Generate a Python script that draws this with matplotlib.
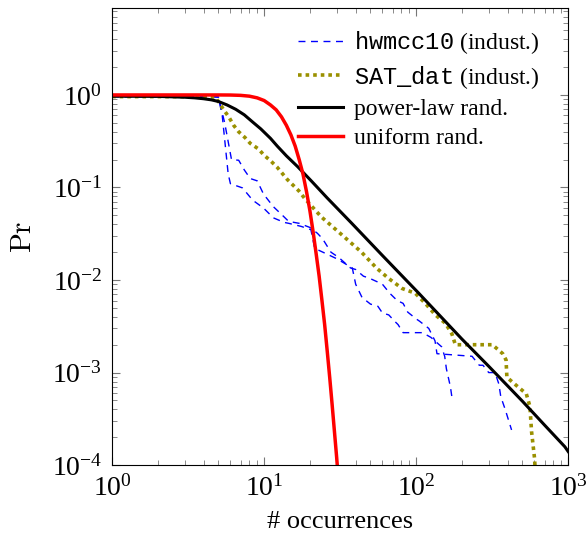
import matplotlib
matplotlib.use('Agg')
import matplotlib.pyplot as plt
from matplotlib.ticker import LogLocator, NullFormatter

plt.rcParams['mathtext.fontset'] = 'cm'
plt.rcParams['mathtext.tt'] = 'Liberation Mono'
plt.rcParams['font.family'] = ['Liberation Serif', 'DejaVu Serif']

# hwmcc10 (industrial), two instances drawn with the same style
hw1_x = [1, 4, 5.0, 5.5, 6.1, 6.8, 7.4, 8.1, 9.0, 9.9, 11.5, 13.2, 14.5, 17, 20, 22.4, 24.2,
         27.5, 31, 37, 40, 45, 49, 56, 60, 67, 75, 82, 88, 100, 105, 121, 133, 137, 233,
         260, 275, 300, 330, 350, 360, 385, 424]
hw1_y = [0.96, 0.96, 0.95, 0.5, 0.2, 0.197, 0.155, 0.125, 0.118, 0.085, 0.062, 0.05, 0.043,
         0.041, 0.037, 0.032, 0.028, 0.02, 0.0175, 0.0135, 0.013, 0.011, 0.0105, 0.0095,
         0.009, 0.0072, 0.006, 0.0056, 0.0045, 0.0038, 0.0036, 0.003, 0.0022, 0.0016,
         0.0015, 0.0012, 0.0012, 0.001, 0.001, 0.00075, 0.00055, 0.0004, 0.00024]

hw2_x = [1, 4, 5.0, 5.3, 5.8, 6.0, 7.2, 8.4, 9.9, 11.5, 13.5, 14.5, 17.5, 20.3, 21.5, 26,
         30, 33, 38, 40, 44, 50, 56, 60, 66, 72, 76, 82, 110, 125, 147, 154, 158, 168, 173]
hw2_y = [0.96, 0.96, 0.95, 0.6, 0.14, 0.11, 0.099, 0.073, 0.06, 0.047, 0.042, 0.041, 0.038,
         0.035, 0.022, 0.019, 0.017, 0.0155, 0.0135, 0.009, 0.0065, 0.0055, 0.0052, 0.0044,
         0.0042, 0.0036, 0.0033, 0.0027, 0.0027, 0.0024, 0.0019, 0.0015, 0.0011, 0.0007,
         0.0005]

# SAT_dat (industrial)
sat_x = [1, 2, 3, 4, 4.78, 5.42, 5.85, 6.3, 6.8, 7.5, 8.1, 9.2, 9.96, 11.0, 12.2, 14.2,
         16.9, 18.5, 23.8, 32.3, 43.7, 55, 65.9, 80.9, 98.6, 114.8, 133.7, 156, 172, 181,
         317, 371, 390, 395, 454, 530, 560, 574, 600, 620]
sat_y = [0.96, 0.96, 0.958, 0.955, 0.95, 0.69, 0.58, 0.47, 0.40, 0.345, 0.30, 0.26, 0.224,
         0.195, 0.165, 0.122, 0.092, 0.076, 0.048, 0.031, 0.020, 0.0134, 0.0104, 0.0081,
         0.0072, 0.0056, 0.0042, 0.0034, 0.0026, 0.002, 0.002, 0.0016, 0.00137, 0.00089,
         0.00073, 0.00059, 0.00043, 0.00023, 0.00012, 0.00005]

# power-law random
pl_x = [1, 2, 3, 3.5, 4, 4.5, 5, 5.7, 6.5, 7.4, 8.4, 9.5, 11, 12.2, 14, 16.6, 20.5, 26,
        37.7, 60, 104, 200, 300, 500, 700, 950, 1000]
pl_y = [0.97, 0.965, 0.945, 0.93, 0.91, 0.885, 0.85, 0.78, 0.70, 0.61, 0.51, 0.43, 0.34,
        0.28, 0.22, 0.168, 0.117, 0.077, 0.041, 0.0184, 0.0072, 0.0023, 0.00117, 0.00049,
        0.00027, 0.000158, 0.00014]

# uniform random
un_x = [1, 5, 6, 7, 8, 9, 10, 11, 12, 13, 14, 15, 16, 17, 18, 19, 20, 21, 22, 23, 24, 25,
        26, 27, 28, 29, 30, 31]
un_y = [1, 1, 0.998, 0.99, 0.97, 0.93, 0.87, 0.78, 0.69, 0.58, 0.47, 0.37, 0.28, 0.2, 0.14,
        0.09, 0.056, 0.033, 0.019, 0.011, 0.006, 0.0033, 0.0017, 0.00088, 0.00045, 0.00023,
        0.00012, 0.00006]

fig = plt.figure(figsize=(5.87, 5.34), dpi=100)
ax = fig.add_axes([0.191, 0.129, 0.777, 0.856])

ax.plot(hw1_x, hw1_y, color='#0000ff', lw=1.0, dashes=(5, 4), label=r'$\mathtt{hwmcc10}$ (indust.)')
ax.plot(hw2_x, hw2_y, color='#0000ff', lw=1.0, dashes=(5, 4))
ax.plot(sat_x, sat_y, color='#9a9000', lw=2.6, dashes=(1, 1.1), label=r'$\mathtt{SAT\_dat}$ (indust.)')
ax.plot(pl_x, pl_y, color='black', lw=2.2, label='power-law rand.')
ax.plot(un_x, un_y, color='#ff0000', lw=2.5, label='uniform rand.')

ax.set_xscale('log')
ax.set_yscale('log')
ax.set_xlim(1, 1000)
ax.set_ylim(1e-4, 8.7)

ax.xaxis.set_minor_locator(LogLocator(base=10, subs=range(2, 10)))
ax.yaxis.set_minor_locator(LogLocator(base=10, subs=range(2, 10), numticks=20))
ax.xaxis.set_minor_formatter(NullFormatter())
ax.yaxis.set_minor_formatter(NullFormatter())
ax.tick_params(which='both', direction='in', top=True, right=True, color='#777777',
               labelsize=20, labelcolor='black')
ax.tick_params(which='major', length=6, pad=7)
ax.tick_params(which='minor', length=3.5)

ax.set_ylabel(r'$\mathrm{Pr}$', fontsize=21, labelpad=11)
ax.set_xlabel('# occurrences', fontsize=19, labelpad=7)

leg = ax.legend(loc='upper right', bbox_to_anchor=(0.983, 1.0), frameon=False, fontsize=17,
                handlelength=1.9, handletextpad=0.45, labelspacing=0.32)
for t in leg.get_texts():
    t.set_math_fontfamily('custom')

fig.savefig('out.png', dpi=100)
